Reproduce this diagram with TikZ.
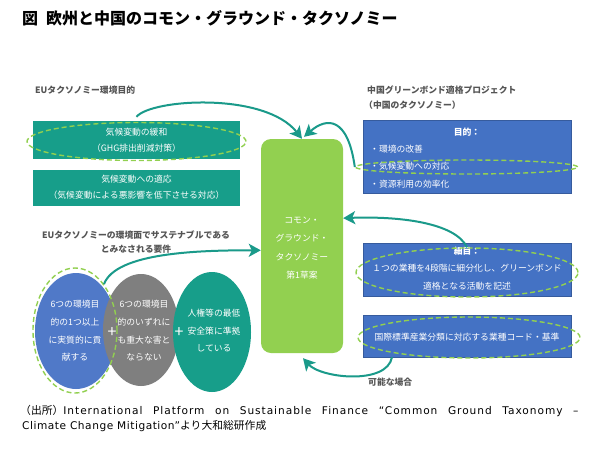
\documentclass[tikz,border=0pt]{standalone}
\usepackage{fontspec}
\setmainfont{Noto Sans CJK JP}
\newfontfamily\latf[LetterSpace=5]{DejaVu Sans}
\newfontfamily\latw[LetterSpace=9]{DejaVu Sans}
\usetikzlibrary{shapes.geometric,arrows.meta,calc}
\definecolor{tealc}{HTML}{179E8A}
\definecolor{arrc}{HTML}{1A9A8A}
\definecolor{bluec}{HTML}{4472C4}
\definecolor{blueel}{HTML}{5079C8}
\definecolor{grayel}{HTML}{7F7F7F}
\definecolor{limec}{HTML}{92D050}
\definecolor{labc}{HTML}{555555}
\tikzset{
  tbox/.style={fill=tealc,draw=none,inner sep=0,minimum width=207,minimum height=#1},
  bbox/.style={fill=bluec,draw=bluec!80!black,line width=0.4,inner sep=0,minimum width=208,minimum height=#1},
  wt/.style={text=white,inner sep=0,font=\fontsize{8.8}{10}\selectfont},
  lab/.style={text=labc,inner sep=0,font=\fontsize{8.8}{10}\selectfont\bfseries},
  dell/.style={ellipse,draw=limec,dashed,dash pattern=on 5pt off 3pt,line width=1.4,inner sep=0,fill=none},
  arr/.style={draw=arrc,line width=2,-{Stealth[length=12pt,width=13pt,inset=3pt]}},
  oval/.style={ellipse,inner sep=0,draw=none}
}
\begin{document}
\begin{tikzpicture}[x=1pt,y=-1pt]
\useasboundingbox (0,0) rectangle (599,453);
\fill[white] (0,0) rectangle (599,453);

% title
\node[anchor=west,inner sep=0,font=\fontsize{16}{17}\selectfont\bfseries] (title) at (22,18) {図\hspace{8pt}欧州と中国のコモン・グラウンド・タクソノミー};

% left top section
\node[lab,anchor=west] (eul) at (35,90) {EUタクソノミー環境目的};
\node[tbox=38] (m1) at (136.5,140) {};
\node[wt] (m1a) at (136.5,132) {気候変動の緩和};
\node[wt] (m1b) at (136.5,148) {（GHG排出削減対策）};
\node[dell,minimum width=219,minimum height=38] (e1) at (136.5,141.5) {};
\node[tbox=36] (m2) at (136.5,187.5) {};
\node[wt] (m2a) at (136.5,179) {気候変動への適応};
\node[wt] (m2b) at (136.5,195.5) {（気候変動による悪影響を低下させる対応）};

% right top section
\node[lab,anchor=west] (cnl1) at (367,90) {中国グリーンボンド適格プロジェクト};
\node[lab,anchor=west] (cnl2) at (364,105) {（中国のタクソノミー）};
\node[bbox=73] (b1) at (467,156.5) {};
\node[wt,font=\fontsize{8.8}{10}\selectfont\bfseries] (b1a) at (467,132) {目的：};
\node[wt,anchor=west] (b1b) at (370,149) {・環境の改善};
\node[wt,anchor=west] (b1c) at (370,166.5) {・気候変動への対応};
\node[wt,anchor=west] (b1d) at (370,184) {・資源利用の効率化};
\node[dell,minimum width=222,minimum height=14] (e2) at (466.5,167) {};

\node[bbox=53] (b2) at (467,269.5) {};
\node[wt,font=\fontsize{8.8}{10}\selectfont\bfseries] (b2a) at (467,251) {細目：};
\node[wt] (b2b) at (467,268.5) {１つの業種を4段階に細分化し、グリーンボンド};
\node[wt] (b2c) at (467,286.5) {適格となる活動を記述};
\node[dell,minimum width=222,minimum height=49] (e3) at (467,272.5) {};

\node[bbox=42] (b3) at (467,336) {};
\node[wt] (b3a) at (467,337) {国際標準産業分類に対応する業種コード・基準};
\node[dell,minimum width=222,minimum height=41] (e4) at (469,337.5) {};

\node[lab,anchor=west] (kanou) at (368,382) {可能な場合};

% green central box
\node[fill=limec,draw=none,rounded corners=10pt,minimum width=82,minimum height=214,inner sep=0] (g) at (302,246) {};
\node[wt] (g1) at (302,220) {コモン・};
\node[wt] (g2) at (302,238.5) {グラウンド・};
\node[wt] (g3) at (302,257) {タクソノミー};
\node[wt] (g4) at (302,275) {第1草案};

% requirements
\node[lab] (req1) at (136,235) {EUタクソノミーの環境面でサステナブルである};
\node[lab] (req2) at (136,249.5) {とみなされる要件};

\node[oval,fill=blueel,minimum width=82,minimum height=116] (o1) at (76,331) {};
\node[oval,fill=grayel,minimum width=76,minimum height=112] (o2) at (141,330) {};
\node[oval,fill=tealc,minimum width=78,minimum height=120] (o3) at (212,332) {};
\node[dell,minimum width=84,minimum height=125] (e5) at (75,330.5) {};

\node[wt] (o1a) at (75,304) {6つの環境目};
\node[wt] (o1b) at (75,322.5) {的の1つ以上};
\node[wt] (o1c) at (75,340.5) {に実質的に貢};
\node[wt] (o1d) at (75,357) {献する};
\node[wt] (o2a) at (144,304) {6つの環境目};
\node[wt] (o2b) at (144,322.5) {的のいずれに};
\node[wt] (o2c) at (144,340.5) {も重大な害と};
\node[wt] (o2d) at (144,357) {ならない};
\node[wt] (o3a) at (214,313) {人権等の最低};
\node[wt] (o3b) at (214,331.5) {安全策に準拠};
\node[wt] (o3c) at (214,348) {している};
\node[wt,font=\fontsize{16}{16}\selectfont] (p1) at (112,333) {+};
\node[wt,font=\fontsize{16}{16}\selectfont] (p2) at (179,333) {+};

% connectors
\coordinate (s1) at ($(m1.north)+(0,-4)$);
\draw[arr] (s1) .. controls +(15,-18) and +(-37,-47) .. (g.north);
\draw[arr] (e2.west) .. controls +(-7,-50) and +(23,-20) .. ($(g.north)+(2,-2)$);
\draw[arr] (e3.north) .. controls +(-12,-25) and +(55,-2) .. ($(g.north east)!0.37!(g.south east)$);
\draw[arr] (e5.58) .. controls +(12,-32) and +(-60,0) .. ($(g.north west)!0.52!(g.south west)$);
\draw[arr] ($(b3.south west)!0.14!(b3.south east)$) .. controls +(-5,28) and +(18,20) .. ($(g.south)+(1,5)$);

% footnote
\node[anchor=west,inner sep=0,font=\fontsize{10.8}{12}\selectfont] (fn1) at (20,411) {（出所）\makebox[515pt][s]{\latw\fontsize{10.6}{12}\selectfont International Platform on Sustainable Finance “Common Ground Taxonomy –}};
\node[anchor=west,inner sep=0,font=\fontsize{10.8}{12}\selectfont] (fn2) at (22,426) {{\latf\fontsize{10.6}{12}\selectfont Climate Change Mitigation”}より大和総研作成};
\end{tikzpicture}
\end{document}
